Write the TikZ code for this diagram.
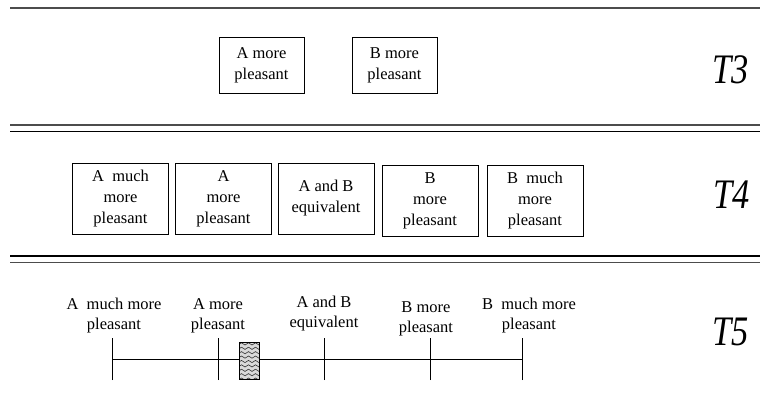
\documentclass[tikz,border=0pt]{standalone}
\usepackage{fontspec}
\setmainfont{Liberation Serif}
\begin{document}
\begin{tikzpicture}[x=1pt,y=-1pt,
    rule/.style={line width=1.3pt,black!70},
    choice/.style={draw,line width=0.8pt,align=center,inner sep=0pt,
      font=\fontsize{16.5}{21}\selectfont},
    bigchoice/.style={choice,minimum width=96,minimum height=71},
    lab/.style={align=center,font=\fontsize{16.5}{20}\selectfont},
    tlabel/.style={font=\fontsize{42}{42}\selectfont\itshape}]
  \useasboundingbox (0,0) rectangle (760,396);
  % separators
  \draw[rule] (10,8) -- (760,8);
  \draw[rule] (10,125) -- (760,125);
  \draw[rule,black] (10,131.5) -- (760,131.5);
  \draw[rule,black] (10,256) -- (760,256);
  \draw[rule] (10,262.5) -- (760,262.5);
  % T3
  \node[choice,minimum width=85,minimum height=56] (amore3) at (261.5,65) {A more\\pleasant};
  \node[choice,minimum width=85,minimum height=56] (bmore3) at (394.5,65) {B more\\pleasant};
  \node[tlabel] (t3) at (731,70) {\scalebox{0.82}[1]{T3}};
  % T4
  \node[bigchoice] (amuch4) at (120.5,198.5) {A~ much\\more\\pleasant};
  \node[bigchoice] (amore4) at (223.5,198.5) {A\\more\\pleasant};
  \node[bigchoice] (equiv4) at (326,198.5) {A and B\\equivalent};
  \node[bigchoice] (bmore4) at (430,201) {B\\more\\pleasant};
  \node[bigchoice] (bmuch4) at (535,201) {B~ much\\more\\pleasant};
  \node[tlabel] (t4) at (732,195) {\scalebox{0.82}[1]{T4}};
  % T5
  \foreach \name/\x in {amuch/112,amore/218,equiv/324,bmore/430,bmuch/522}
    \coordinate (\name5) at (\x,359);
  \draw[line width=0.8pt] (amuch5) -- (bmuch5);
  \foreach \name in {amuch5,amore5,equiv5,bmore5,bmuch5}
    \draw[line width=0.8pt] ([yshift=-21pt]\name) -- ([yshift=21pt]\name);
  \node[lab] (amuchl) at (114,316) {A~ much more\\pleasant};
  \node[lab] (amorel) at (218,316) {A more\\pleasant};
  \node[lab] (equivl) at (324,314) {A and B\\equivalent};
  \node[lab] (bmorel) at (426,319) {B more\\pleasant};
  \node[lab] (bmuchl) at (529,316) {B~ much more\\pleasant};
  \node[tlabel] (t5) at (731,332) {\scalebox{0.82}[1]{T5}};
  % marker
  \fill[black!15] (239,342) rectangle (259,379);
  \begin{scope}
    \clip (239,342) rectangle (259,379);
    \foreach \r in {0,...,8}
      \draw[line width=0.6pt,black!80]
        (238,345+\r*4.4) -- ++(3.5,-2.2) -- ++(3.5,2.2) -- ++(3.5,-2.2) -- ++(3.5,2.2)
        -- ++(3.5,-2.2) -- ++(3.5,2.2) -- ++(3.5,-2.2);
  \end{scope}
  \draw[line width=0.8pt] (239,342) rectangle (259,379);
\end{tikzpicture}
\end{document}
